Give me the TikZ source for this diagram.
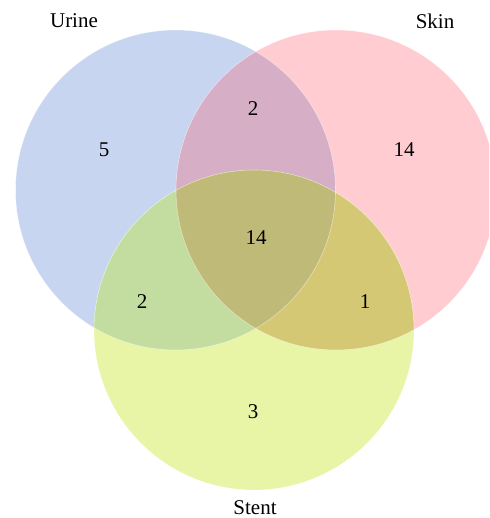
\documentclass[tikz,border=0pt]{standalone}
\usepackage{fontspec}
\setmainfont{Liberation Serif}
\usetikzlibrary{positioning}
\definecolor{urineblue}{HTML}{C8D5F0}
\definecolor{skinpink}{HTML}{FFCCD2}
\definecolor{stentyellow}{HTML}{E8F4A6}
\definecolor{urineskin}{HTML}{D6AEC6}
\definecolor{urinestent}{HTML}{C2DD9F}
\definecolor{skinstent}{HTML}{D4C874}
\definecolor{allthree}{HTML}{BFBA77}
\tikzset{
  set label/.style   = {font=\fontsize{21}{25}\selectfont, text=black,
                        inner sep=0pt, anchor=center},
  count label/.style = {font=\fontsize{21}{25}\selectfont, text=black,
                        inner sep=0pt, anchor=center},
  edge line/.style   = {draw=white, draw opacity=0.5, line width=0.6pt},
}

\begin{document}
\begin{tikzpicture}[x=1pt, y=-1pt]

  %% --- frame ------------------------------------------------------
  \clip (0,0) rectangle (489,518);

  %% --- the three sets ---------------------------------------------
  \coordinate (cU) at (175.5,190);
  \coordinate (cK) at (336,190);
  \coordinate (cS) at (254,330);

  \fill[urineblue]   (cU) circle[radius=160pt];
  \fill[skinpink]    (cK) circle[radius=160pt];
  \fill[stentyellow] (cS) circle[radius=160pt];

  %% pairwise overlaps
  \begin{scope}
    \clip (cU) circle[radius=160pt];
    \fill[urineskin]  (cK) circle[radius=160pt];
    \fill[urinestent] (cS) circle[radius=160pt];
  \end{scope}
  \begin{scope}
    \clip (cK) circle[radius=160pt];
    \fill[skinstent] (cS) circle[radius=160pt];
  \end{scope}
  %% all three
  \begin{scope}
    \clip (cU) circle[radius=160pt];
    \clip (cK) circle[radius=160pt];
    \fill[allthree] (cS) circle[radius=160pt];
  \end{scope}

  %% faint rims
  \path[edge line] (cU) circle[radius=160pt];
  \path[edge line] (cK) circle[radius=160pt];
  \path[edge line] (cS) circle[radius=160pt];

  %% --- labels -----------------------------------------------------
  \node[set label] (urine) at (74,21)    {Urine};
  \node[set label] (skin)  at (435,21)   {Skin};
  \node[set label] (stent) at (255,508)  {Stent};

  \node[count label] (nU)   at (104,150) {5};
  \node[count label] (nUK)  at (253,109) {2};
  \node[count label] (nK)   at (404,150) {14};
  \node[count label] (nUKS) at (256,238) {14};
  \node[count label] (nUS)  at (142,302) {2};
  \node[count label] (nKS)  at (365,302) {1};
  \node[count label] (nS)   at (253,412) {3};
\end{tikzpicture}
\end{document}
